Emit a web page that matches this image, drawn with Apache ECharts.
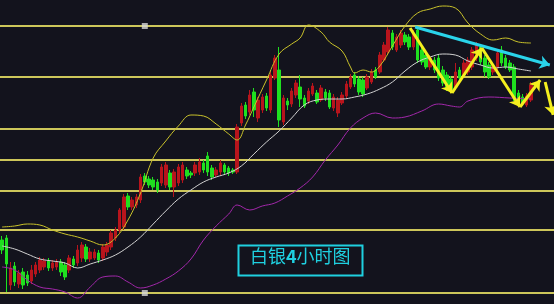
<!DOCTYPE html>
<html><head><meta charset="utf-8">
<script src="https://cdn.jsdelivr.net/npm/echarts@6/dist/echarts.min.js"></script>
<style>html,body{margin:0;padding:0;background:#13131d;}#c{width:554px;height:304px;}</style>
</head><body><div id="c"></div>
<script>
// number of time slots on the axis (the last few are empty space on the right)
const slotCount = 132;
const categories = Array.from({length: slotCount}, (_, i) => 'K' + (i + 1));

// candles: [open, close, lowest, highest]
const candles = [
[64,54,50,68],[66,40,12,69],[19,36,14,42],[38,22,18,42],[20,31,16,34],[32,19,15,36],[29,21,18,33],[23,34,20,39],
[30,39,27,42],[34,44,31,47],[37,43,34,46],[43,36,33,46],[36,41,33,44],[37,42,34,45],[42,32,28,45],[39,27,24,42],
[34,46,31,49],[45,39,36,48],[41,54,38,59],[46,59,42,62],[57,45,42,60],[45,52,42,56],[46,52,44,55],[51,44,41,54],
[46,57,43,60],[52,59,48,62],[57,71,54,74],[66,74,63,77],[74,94,71,96],[77,107,74,110],[108,97,94,111],[97,104,94,107],
[99,107,96,110],[104,127,101,130],[128,122,119,131],[125,119,116,128],[124,117,114,127],[122,114,111,125],[121,137,118,140],[119,139,116,142],
[131,117,114,134],[117,132,107,135],[121,137,118,140],[124,139,121,142],[134,128,125,137],[131,129,126,133],[131,139,128,142],[132,142,129,146],
[141,134,131,144],[148,132,128,152],[136,127,124,139],[129,134,127,137],[132,141,129,144],[139,132,130,141],[136,131,128,138],[134,132,130,136],
[132,177,130,180],[181,198,178,201],[199,188,185,202],[192,209,189,214],[212,194,187,216],[186,204,182,207],[194,207,191,210],[208,196,193,211],
[194,229,191,234],[226,246,224,249],[234,184,177,257],[182,206,179,209],[203,199,194,206],[200,213,197,216],[209,221,206,224],[217,205,197,229],
[206,198,196,209],[203,213,200,216],[210,218,208,221],[211,202,200,214],[204,216,202,219],[212,206,203,215],[211,197,195,214],[196,207,193,210],
[191,204,187,207],[201,209,199,212],[208,220,206,223],[217,227,215,230],[229,220,217,232],[225,212,209,228],[224,210,207,227],[216,227,214,230],
[222,232,220,235],[234,227,225,237],[232,249,230,252],[244,259,242,262],[252,274,249,277],[271,257,254,274],[254,267,252,270],[259,271,256,274],
[269,262,259,272],[267,257,254,270],[257,271,254,274],[274,244,241,277],[254,242,239,257],[249,237,235,252],[237,246,234,249],[244,234,231,247],
[246,226,223,249],[234,221,218,238],[229,216,213,232],[225,214,211,228],[217,232,214,241],[234,226,224,237],[229,241,226,244],[232,244,229,247],
[237,254,234,257],[246,259,243,262],[257,242,239,260],[246,232,227,249],[239,227,225,242],[232,238,229,241],[237,251,234,254],[254,241,238,258],
[246,237,235,249],[241,234,232,244],[237,206,203,240],[211,204,202,214],[207,200,198,210],[199,208,197,211],[204,219,202,222]
];

// Bollinger-style bands: [slot, value]
const upperBand = [[0,77],[3,78],[6,80],[9,79],[12,74],[15,70],[18,67],[21,63],[24,59],[27,66],[30,84],[33,111],[36,146],[39,163],[42,178],[45,189],[48,188],[51,180],[54,170],[56,164],[58,179],[60,197],[63,224],[66,250],[69,260],[71,266],[73,279],[76,272],[78,262],[81,253],[83,237],[84,231],[86,234],[88,232],[90,238],[93,258],[96,278],[99,291],[102,295],[105,298],[108,296],[111,281],[114,270],[117,264],[120,266],[123,262],[126,261]];
const middleBand = [[0,58],[3,55],[6,50],[9,45],[12,43],[15,41],[18,36],[21,40],[24,44],[27,49],[30,57],[33,67],[36,80],[39,93],[42,105],[45,114],[48,122],[51,127],[54,131],[57,138],[60,150],[63,162],[66,173],[69,186],[72,199],[75,204],[78,205],[81,205],[84,207],[87,210],[90,215],[93,222],[96,233],[99,242],[102,247],[105,250],[108,249],[111,243],[114,239],[117,236],[120,237],[123,235],[126,233]];
const lowerBand = [[0,37],[3,34],[6,24],[9,17],[12,15],[15,12],[18,6],[21,17],[24,27],[27,28],[30,22],[33,16],[36,19],[39,25],[42,33],[45,45],[48,64],[51,78],[54,90],[56,99],[59,94],[62,98],[65,101],[68,108],[71,116],[74,127],[77,144],[80,159],[83,176],[86,186],[89,191],[93,186],[96,187],[100,193],[104,200],[107,198],[109,197],[111,203],[116,207],[121,206],[126,205]];

// horizontal retracement levels and their handles
const fibLevels = [278, 227, 175, 144, 113, 74, 11];
const handles = [[34, 278], [34, 11]];

// hand-drawn annotations
const trendArrow = [[98.4, 277], [130.5, 239]];
const zigzag = [
  [[97.2, 276], [107.2, 211]],
  [[107.2, 211], [114.3, 256]],
  [[114.3, 256], [123.4, 197]],
  [[123.4, 197], [128.2, 224]],
  [[129.4, 222], [131.3, 189]]
];
const titleParts = ['白银', '4', '小时图'];

const chart = echarts.init(document.getElementById('c'));
const RED = '#b8141c', GREEN = '#1fe01f', YELLOW = '#f4ef1e', CYAN = '#2ad4ea';

chart.setOption({
  backgroundColor: '#13131d',
  animation: false,
  grid: {left: 0, right: 0, top: 0, bottom: 0},
  xAxis: [
    {type: 'category', data: categories, show: false, boundaryGap: true},
    {type: 'value', min: -0.5, max: slotCount - 0.5, show: false}
  ],
  yAxis: {type: 'value', min: 0, max: 304, show: false, splitLine: {show: false}},
  series: [
    {
      type: 'candlestick', data: candles, barWidth: 3, z: 3,
      itemStyle: {color: RED, color0: GREEN, borderColor: RED, borderColor0: GREEN, borderWidth: 1},
      markLine: {
        silent: true, symbol: 'none', z: 1,
        label: {show: false},
        lineStyle: {color: '#cdc65a', width: 2, type: 'solid', opacity: 1},
        emphasis: {disabled: true},
        data: fibLevels.map(v => ({yAxis: v}))
      }
    },
    {type: 'line', xAxisIndex: 1, data: upperBand, smooth: 0.4, symbol: 'none', z: 4,
      lineStyle: {color: '#c9c22a', width: 1}},
    {type: 'line', xAxisIndex: 1, data: middleBand, smooth: 0.4, symbol: 'none', z: 4,
      lineStyle: {color: '#d2d2d2', width: 1}},
    {type: 'line', xAxisIndex: 1, data: lowerBand, smooth: 0.4, symbol: 'none', z: 4,
      lineStyle: {color: '#a227aa', width: 1},
      markLine: {
        silent: true, symbol: ['none', 'arrow'], symbolSize: 10, z: 6,
        label: {show: false}, emphasis: {disabled: true},
        lineStyle: {color: YELLOW, width: 3, type: 'solid', opacity: 1},
        itemStyle: {color: YELLOW},
        data: [
          [{coord: trendArrow[0], lineStyle: {color: CYAN, width: 3, type: 'solid'}, itemStyle: {color: CYAN}},
           {coord: trendArrow[1], lineStyle: {color: CYAN}, itemStyle: {color: CYAN}}]
        ].concat(zigzag.map(seg => [
          {coord: seg[0], lineStyle: {color: YELLOW, width: 3, type: 'solid'}, itemStyle: {color: YELLOW}},
          {coord: seg[1], lineStyle: {color: YELLOW}, itemStyle: {color: YELLOW}}
        ]))
      }
    },
    {type: 'scatter', xAxisIndex: 1, data: handles, symbol: 'rect', symbolSize: 6, z: 5,
      itemStyle: {color: '#d8d8d8'}, silent: true}
  ],
  graphic: [
    {type: 'rect', left: 236, top: 243, z: 10,
      shape: {width: 124, height: 30}, style: {fill: 'none', stroke: '#1fd0e0', lineWidth: 2}},
    {type: 'text', left: 250, top: 247, z: 10,
      style: {
        text: '{a|' + titleParts[0] + '}{b|' + titleParts[1] + '}{a|' + titleParts[2] + '}',
        rich: {
          a: {fontFamily: 'Noto Sans CJK SC', fontSize: 18, fill: '#1fd0e0', color: '#1fd0e0'},
          b: {fontFamily: 'Noto Sans CJK SC', fontSize: 18, fontWeight: 'bold', fill: '#1fd0e0', color: '#1fd0e0'}
        }
      }}
  ]
});
</script></body></html>
